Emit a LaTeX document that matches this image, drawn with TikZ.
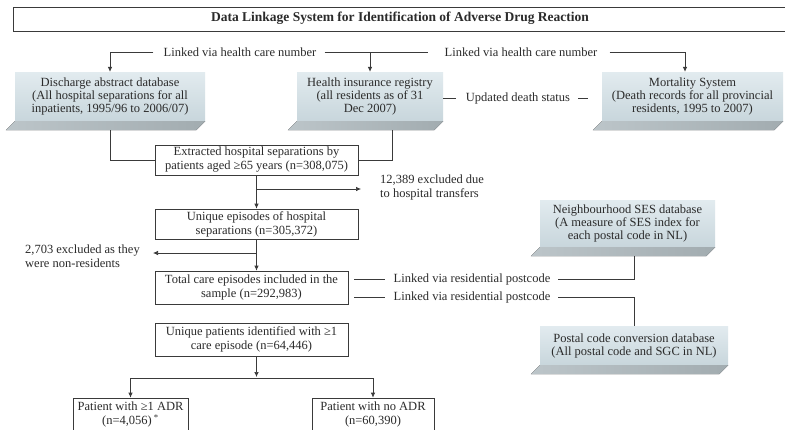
\documentclass[tikz,border=0pt]{standalone}
\usepackage{fontspec}
\setmainfont{Liberation Serif}
\usetikzlibrary{arrows.meta,calc}
\definecolor{ink}{HTML}{2B2B2B}
\definecolor{linec}{HTML}{3A3A3A}
\definecolor{facetop}{HTML}{E2EBEF}
\definecolor{facebot}{HTML}{C8D6DC}
\definecolor{bevl}{HTML}{BCC5C9}
\definecolor{bevr}{HTML}{A2ACB0}
\newcommand{\bevelof}[1]{\fill[bevel] (#1.south west) -- (#1.south east) -- ++(-9,9) -- ($(#1.south west)+(-9,9)$) -- cycle;}
\begin{document}
\begin{tikzpicture}[x=1pt,y=-1pt,
  ln/.style={draw=linec, line width=0.7pt},
  arr/.style={ln,-{Latex[length=5pt,width=4.5pt]}},
  fbox/.style={draw=linec, line width=0.7pt, fill=white, text=ink, align=center, inner sep=0pt, font=\fontsize{12.5}{14}\selectfont},
  face/.style={top color=facetop, bottom color=facebot, draw=none, text=ink, align=center, inner sep=0pt, font=\fontsize{12.5}{13}\selectfont},
  bevel/.style={left color=bevl, right color=bevr, draw=none},
  lbl/.style={text=ink, inner sep=0pt, font=\fontsize{12.5}{14}\selectfont},
]
\useasboundingbox (0,0) rectangle (785,429);
\clip (0,0) rectangle (785,429);
\fill[white] (0,0) rectangle (785,429);

% title
\node[draw=linec, line width=0.6pt, minimum width=800pt, minimum height=24pt, inner sep=0pt] (titlebox) at (413,19) {};
\node[text=ink, inner sep=0pt, font=\bfseries\fontsize{13.5}{15}\selectfont] (title) at (400,18) {Data Linkage System for Identification of Adverse Drug Reaction};

% 3D source boxes
\node[face, minimum width=190pt, minimum height=49pt] (dad) at (110,96.5) {Discharge abstract database\\(All hospital separations for all\\inpatients, 1995/96 to 2006/07)};
\node[face, minimum width=146pt, minimum height=49pt] (hir) at (370,96.5) {Health insurance registry\\(all residents as of 31\\Dec 2007)};
\node[face, minimum width=181pt, minimum height=49pt] (mort) at (692.5,96.5) {Mortality System\\(Death records for all provincial\\residents, 1995 to 2007)};
\node[face, minimum width=175pt, minimum height=47pt] (nses) at (627.5,223.5) {Neighbourhood SES database\\(A measure of SES index for\\each postal code in NL)};
\node[face, minimum width=188pt, minimum height=39pt] (postal) at (634,345.5) {Postal code conversion database\\(All postal code and SGC in NL)};
\bevelof{dad}
\bevelof{hir}
\bevelof{mort}
\bevelof{nses}
\bevelof{postal}

% flow boxes
\node[fbox, minimum width=203pt, minimum height=30pt] (ext) at (256.5,160) {Extracted hospital separations by\\patients aged ≥65 years (n=308,075)};
\node[fbox, minimum width=203pt, minimum height=30pt] (uep) at (256.5,224) {Unique episodes of hospital\\separations (n=305,372)};
\node[fbox, minimum width=193pt, minimum height=33pt] (tot) at (251.5,287.5) {Total care episodes included in the\\sample (n=292,983)};
\node[fbox, minimum width=193pt, minimum height=33pt] (upat) at (251.5,339.5) {Unique patients identified with ≥1\\care episode (n=64,446)};
\node[fbox, minimum width=115pt, minimum height=33pt] (pa1) at (130.5,414.5) {Patient with ≥1 ADR\\(n=4,056)\,\textsuperscript{*}};
\node[fbox, minimum width=122pt, minimum height=33pt] (pa0) at (373,414.5) {Patient with no ADR\\(n=60,390)};

% labels
\node[lbl] (hcn1) at (240,52) {Linked via health care number};
\node[lbl] (hcn2) at (521,52) {Linked via health care number};
\node[lbl] (uds) at (518,98) {Updated death status};
\node[lbl, align=left, anchor=west] (x12) at (380,187) {12,389 excluded due\\to hospital transfers};
\node[lbl, align=left, anchor=west] (x27) at (25,256) {2,703 excluded as they\\were non-residents};
\node[lbl] (rp1) at (472,279) {Linked via residential postcode};
\node[lbl] (rp2) at (472,297) {Linked via residential postcode};
\coordinate (x12tip) at (361,189);
\coordinate (x27tip) at (153,253);
\coordinate (busy) at (0,378);

% connectors
\draw[arr] ([xshift=-10pt]hcn1.west) -| (dad.north);
\draw[ln] ([xshift=8pt]hcn1.east) -- ([xshift=-16pt]hcn2.west);
\draw[arr] (hcn1.east -| hir.north) -- (hir.north);
\draw[arr] ([xshift=12pt]hcn2.east) -| ([xshift=-7.5pt]mort.north);
\draw[ln] (hir.east |- uds.west) -- ([xshift=-10pt]uds.west);
\draw[ln] ([xshift=8pt]uds.east) -- ([xshift=18pt]uds.east);

\draw[ln] ($(dad.south)+(0,9)$) |- (ext.west);
\draw[ln] ($(hir.south)+(22,9)$) |- (ext.east);
\draw[arr] (ext.south) -- (uep.north);
\draw[arr] (ext.south |- x12tip) -- (x12tip);
\draw[arr] (uep.south) -- (uep.south |- tot.north);
\draw[arr] (uep.south |- x27tip) -- (x27tip);

\draw[ln] ($(tot.east |- rp1.west)+(6,0)$) -- ([xshift=-9pt]rp1.west);
\draw[ln] ([xshift=8pt]rp1.east) -| ($(nses.south)+(6.5,9)$);
\draw[ln] ($(tot.east |- rp2.west)+(6,0)$) -- ([xshift=-9pt]rp2.west);
\draw[ln] ([xshift=8pt]rp2.east) -| (postal.north);

\draw[arr, shorten >=1pt] (upat.south -| uep.south) -- (uep.south |- busy);
\draw[ln] (pa1.north |- busy) -- (pa0.north |- busy);
\draw[arr] (pa1.north |- busy) -- (pa1.north);
\draw[arr] (pa0.north |- busy) -- (pa0.north);
\end{tikzpicture}
\end{document}
